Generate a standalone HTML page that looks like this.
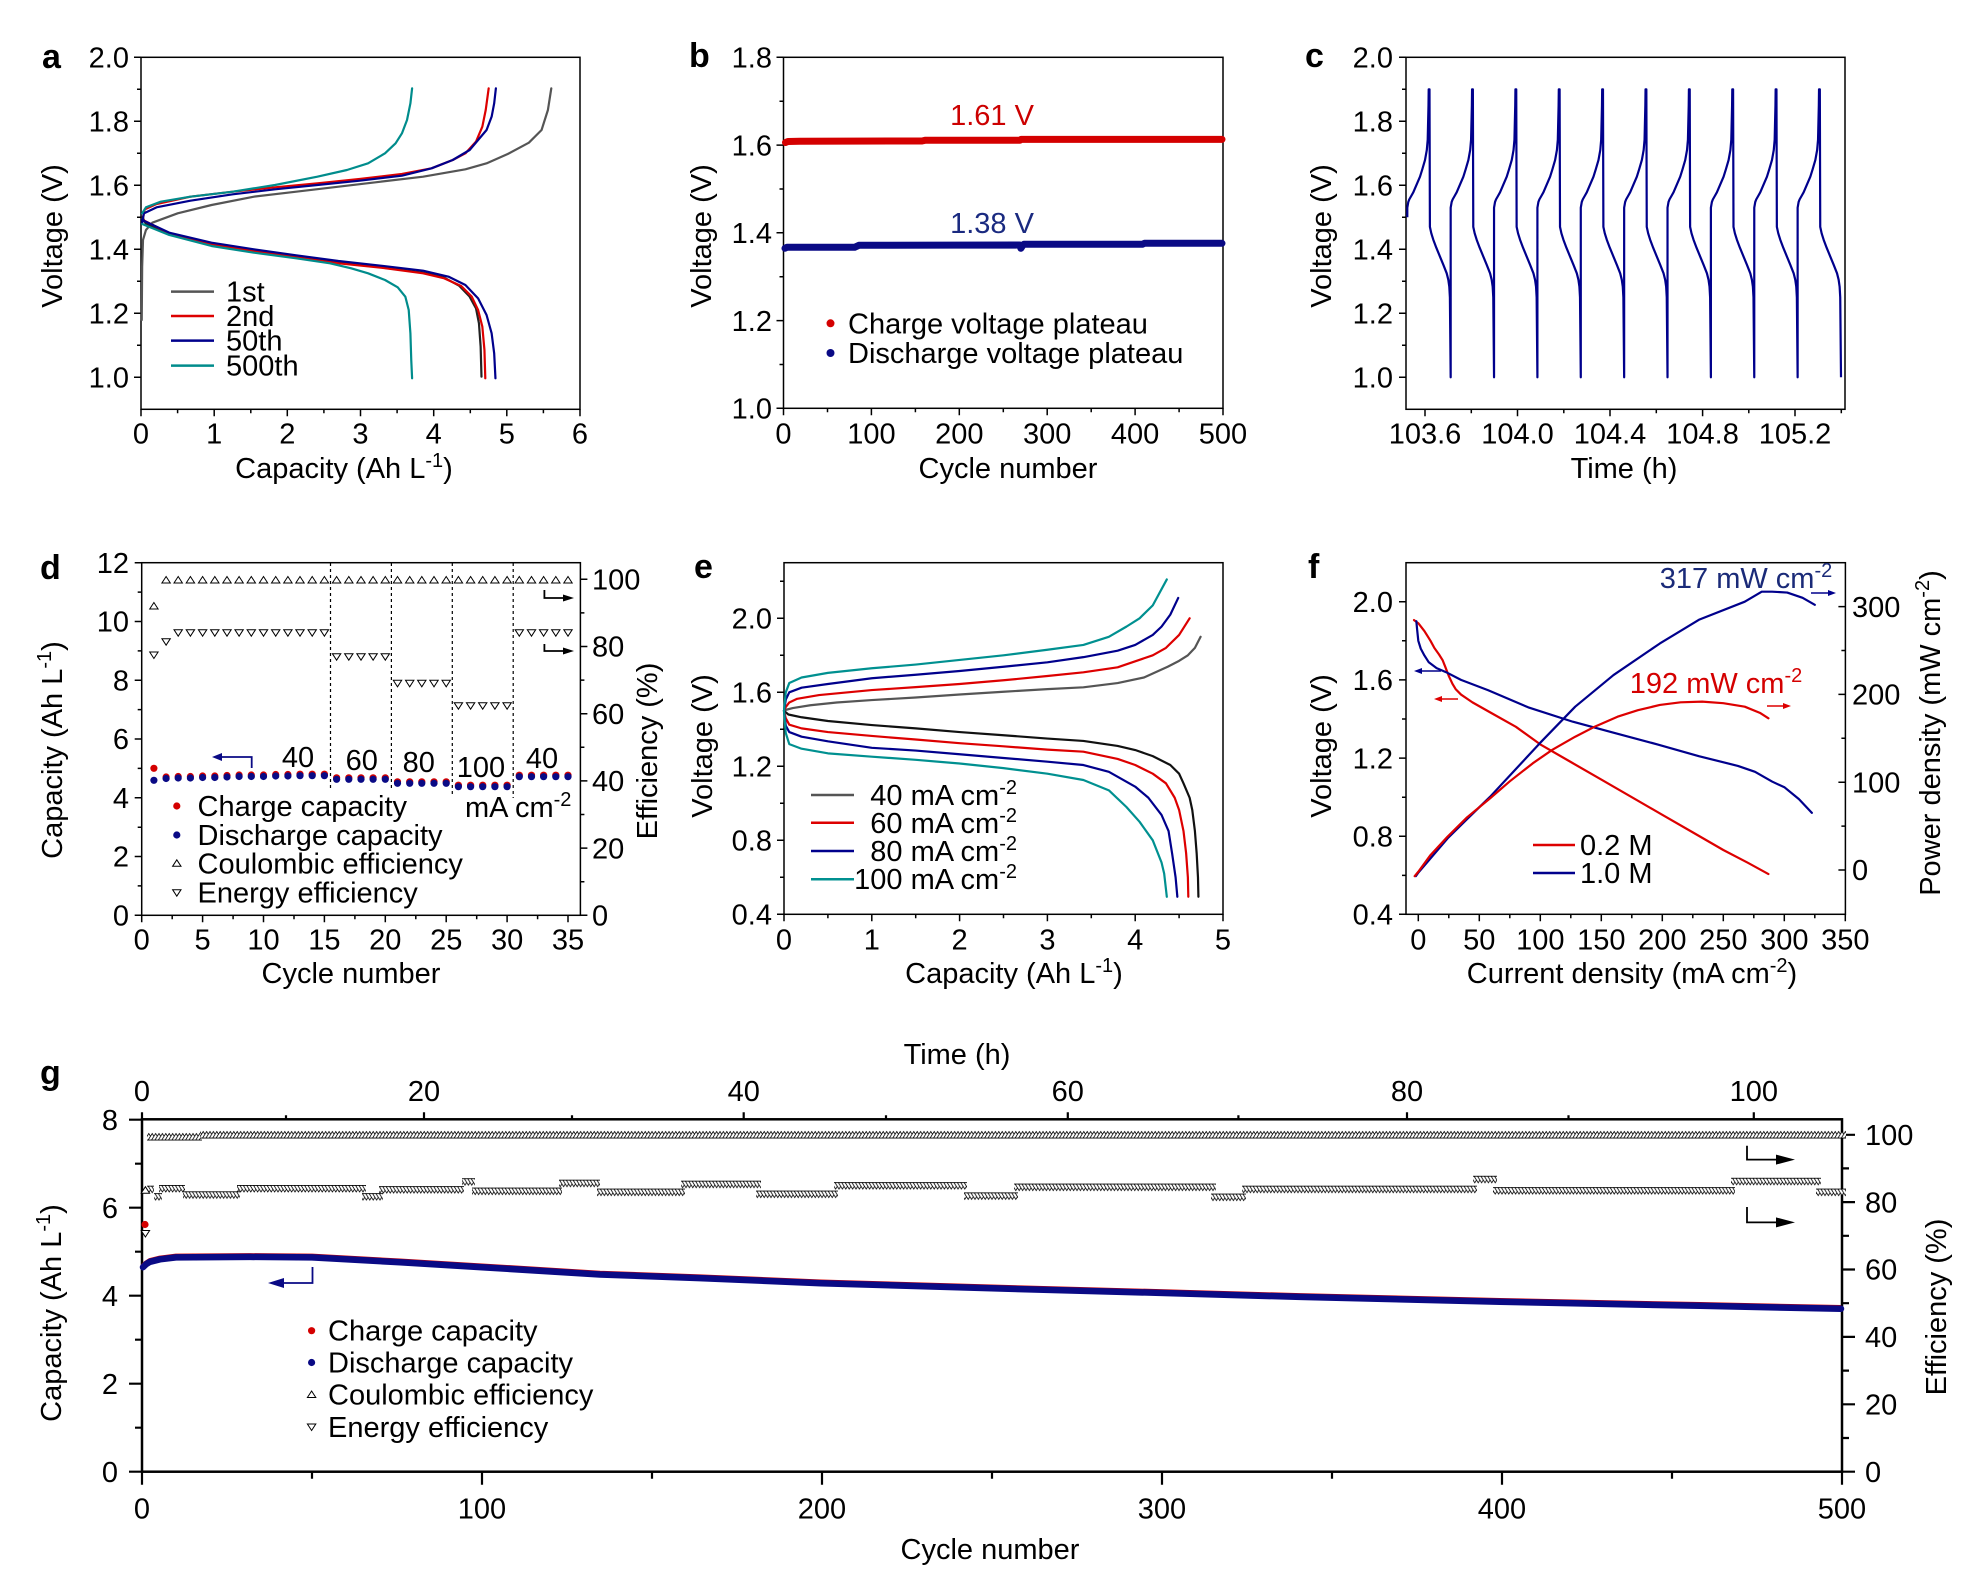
<!DOCTYPE html>
<html><head><meta charset="utf-8"><style>
html,body{margin:0;padding:0;background:#fff;}
svg{display:block}
text{font-family:"Liberation Sans",Arial,sans-serif;font-size:29px;fill:#000}
.b{font-weight:bold;font-size:34px}
.ax{fill:none;stroke:#000;stroke-width:1.5}
.tk{fill:none;stroke:#000;stroke-width:1.5}
.ln{fill:none;stroke-width:2.2;stroke-linejoin:round;stroke-linecap:round;vector-effect:non-scaling-stroke}
.e{text-anchor:end}
.m{text-anchor:middle}
</style></head><body>
<svg width="1981" height="1587" viewBox="0 0 1981 1587" xmlns="http://www.w3.org/2000/svg">
<defs>
<path id="tu" d="M0,-3.5 L4.2,3 L-4.2,3 Z" fill="#fff" stroke="#000" stroke-width="1"/>
<path id="td" d="M0,3.5 L4.2,-3 L-4.2,-3 Z" fill="#fff" stroke="#000" stroke-width="1"/>
<pattern id="pCE" patternUnits="userSpaceOnUse" x="140.3" y="-10" width="3.4" height="20">
<g fill="#fff" stroke="#000" stroke-width="0.8">
<path d="M-5.1,6.5 L-1.1,13 L-9.1,13 Z"/><path d="M-1.7,6.5 L2.3,13 L-5.7,13 Z"/><path d="M1.7,6.5 L5.7,13 L-2.3,13 Z"/><path d="M5.1,6.5 L9.1,13 L1.1,13 Z"/><path d="M8.5,6.5 L12.5,13 L4.5,13 Z"/>
</g></pattern>
<pattern id="pEE" patternUnits="userSpaceOnUse" x="140.3" y="-10" width="3.4" height="20">
<g fill="#fff" stroke="#000" stroke-width="0.8">
<path d="M-9.1,7 L-1.1,7 L-5.1,13.5 Z"/><path d="M-5.7,7 L2.3,7 L-1.7,13.5 Z"/><path d="M-2.3,7 L5.7,7 L1.7,13.5 Z"/><path d="M1.1,7 L9.1,7 L5.1,13.5 Z"/><path d="M4.5,7 L12.5,7 L8.5,13.5 Z"/>
</g></pattern>
</defs>
<rect width="1981" height="1587" fill="#fff"/>

<!-- ================= Panel a ================= -->
<text class="b" x="42" y="68">a</text>
<rect class="ax" x="141" y="57.3" width="439" height="352"/>
<path class="tk" d="M134,57.3H141M134,121.3H141M134,185.3H141M134,249.3H141M134,313.3H141M134,377.3H141M137,89.3H141M137,153.3H141M137,217.3H141M137,281.3H141M137,345.3H141M141,409.3V416.3M214.2,409.3V416.3M287.3,409.3V416.3M360.5,409.3V416.3M433.7,409.3V416.3M506.8,409.3V416.3M580,409.3V416.3M177.6,409.3V413.3M250.8,409.3V413.3M323.9,409.3V413.3M397.1,409.3V413.3M470.3,409.3V413.3M543.4,409.3V413.3"/>
<text class="e" x="129" y="67.5">2.0</text><text class="e" x="129" y="131.5">1.8</text><text class="e" x="129" y="195.5">1.6</text><text class="e" x="129" y="259.5">1.4</text><text class="e" x="129" y="323.5">1.2</text><text class="e" x="129" y="387.5">1.0</text>
<text class="m" x="141" y="443.5">0</text><text class="m" x="214.2" y="443.5">1</text><text class="m" x="287.3" y="443.5">2</text><text class="m" x="360.5" y="443.5">3</text><text class="m" x="433.7" y="443.5">4</text><text class="m" x="506.8" y="443.5">5</text><text class="m" x="580" y="443.5">6</text>
<text class="m" x="344" y="478">Capacity (Ah L<tspan font-size="20" dy="-11">-1</tspan><tspan dy="11">)</tspan></text>
<text class="m" transform="translate(52,236) rotate(-90)" y="10">Voltage (V)</text>
<g transform="scale(0.4231 0.33333)">
<path class="ln" stroke="#555" d="M335,960 L336,800 L338,720 L345,690 L360,668 L420,640 L500,615 L600,590 L700,575 L800,560 L900,545 L1000,530 L1100,508 L1150,490 L1200,462 L1250,428 L1280,390 L1295,330 L1303,265"/>
<path class="ln" stroke="#222" d="M336,650 L345,672 L400,700 L500,730 L600,750 L700,770 L800,787 L900,802 L1000,818 L1050,833 L1085,857 L1110,890 L1125,925 L1132,970 L1136,1040 L1138,1130"/>
<path class="ln" stroke="#dd0000" d="M338,655 L342,628 L370,612 L450,590 L550,575 L650,562 L750,550 L850,537 L950,522 L1020,505 L1070,480 L1100,460 L1125,425 L1140,380 L1148,330 L1155,265"/>
<path class="ln" stroke="#dd0000" d="M338,660 L400,700 L500,733 L600,753 L700,772 L800,790 L900,803 L1000,820 L1050,835 L1090,858 L1115,890 L1130,930 L1140,980 L1145,1050 L1147,1135"/>
<path class="ln" stroke="#00008c" d="M336,670 L340,640 L370,622 L450,602 L550,583 L650,568 L750,555 L850,542 L950,527 L1020,505 L1070,480 L1110,450 L1130,420 L1150,390 L1162,350 L1168,310 L1172,265"/>
<path class="ln" stroke="#00008c" d="M336,660 L400,698 L500,728 L600,748 L700,766 L800,783 L900,797 L1000,812 L1060,830 L1100,855 L1130,895 L1150,945 L1162,1000 L1168,1060 L1171,1135"/>
<path class="ln" stroke="#008c8c" d="M336,640 L345,622 L380,605 L450,590 L550,575 L650,555 L750,530 L820,510 L870,490 L910,460 L935,430 L950,400 L962,360 L970,310 L974,265"/>
<path class="ln" stroke="#008c8c" d="M336,672 L400,705 L500,738 L600,758 L700,775 L780,790 L830,805 L870,820 L910,840 L940,862 L958,890 L966,930 L970,1000 L972,1080 L974,1135"/>
</g>
<g stroke-width="2.5">
<line x1="171" y1="291.6" x2="214" y2="291.6" stroke="#555"/>
<line x1="171" y1="316" x2="214" y2="316" stroke="#dd0000"/>
<line x1="171" y1="340.6" x2="214" y2="340.6" stroke="#00008c"/>
<line x1="171" y1="365.6" x2="214" y2="365.6" stroke="#008c8c"/>
</g>
<text x="226" y="301.6">1st</text><text x="226" y="326">2nd</text><text x="226" y="350.6">50th</text><text x="226" y="375.6">500th</text>

<!-- ================= Panel b ================= -->
<text class="b" x="689" y="67">b</text>
<rect class="ax" x="783.5" y="57.3" width="439.5" height="351"/>
<path class="tk" d="M776.5,57.3H783.5M776.5,145.1H783.5M776.5,232.8H783.5M776.5,320.6H783.5M776.5,408.3H783.5M779.5,101.2H783.5M779.5,189H783.5M779.5,276.7H783.5M779.5,364.5H783.5M783.5,408.3V415.3M871.4,408.3V415.3M959.3,408.3V415.3M1047.2,408.3V415.3M1135.1,408.3V415.3M1223,408.3V415.3M827.5,408.3V412.3M915.4,408.3V412.3M1003.3,408.3V412.3M1091.2,408.3V412.3M1179.1,408.3V412.3"/>
<text class="e" x="772" y="67.5">1.8</text><text class="e" x="772" y="155.3">1.6</text><text class="e" x="772" y="243">1.4</text><text class="e" x="772" y="330.8">1.2</text><text class="e" x="772" y="418.5">1.0</text>
<text class="m" x="783.5" y="443.5">0</text><text class="m" x="871.4" y="443.5">100</text><text class="m" x="959.3" y="443.5">200</text><text class="m" x="1047.2" y="443.5">300</text><text class="m" x="1135.1" y="443.5">400</text><text class="m" x="1223" y="443.5">500</text>
<text class="m" x="1008" y="478">Cycle number</text>
<text class="m" transform="translate(701,236) rotate(-90)" y="10">Voltage (V)</text>
<path d="M785.5,142.5 L788,141.5 L800,141.2 L922,141 L925,140.3 L1020,140.3 L1021,139.4 L1222,139.4" fill="none" stroke="#d40000" stroke-width="7" stroke-linecap="round" stroke-linejoin="round"/>
<path d="M785,248.3 L787,247.3 L854.6,247.3 L858.9,245.3 L1019.6,245 L1020.9,248.3 L1023,245 L1024,244.3 L1142.3,244.3 L1144.5,243.3 L1222,243.3" fill="none" stroke="#0a0a85" stroke-width="7" stroke-linecap="round" stroke-linejoin="round"/>
<text class="m" x="992" y="125" style="fill:#cc0000">1.61 V</text>
<text class="m" x="992" y="233" style="fill:#1a2a80">1.38 V</text>
<circle cx="830.5" cy="323.3" r="4" fill="#d40000"/><circle cx="830.5" cy="353" r="4" fill="#0a0a85"/>
<text x="848" y="333.3">Charge voltage plateau</text><text x="848" y="363">Discharge voltage plateau</text>

<!-- ================= Panel c ================= -->
<text class="b" x="1305" y="67">c</text>
<rect class="ax" x="1406" y="57.3" width="439" height="352"/>
<path class="tk" d="M1399,57.3H1406M1399,121.3H1406M1399,185.3H1406M1399,249.3H1406M1399,313.3H1406M1399,377.3H1406M1402,89.3H1406M1402,153.3H1406M1402,217.3H1406M1402,281.3H1406M1402,345.3H1406M1425,409.3V416.3M1517.5,409.3V416.3M1610,409.3V416.3M1702.6,409.3V416.3M1795,409.3V416.3M1471.3,409.3V413.3M1563.8,409.3V413.3M1656.3,409.3V413.3M1748.8,409.3V413.3M1841.3,409.3V413.3"/>
<text class="e" x="1393" y="67.5">2.0</text><text class="e" x="1393" y="131.5">1.8</text><text class="e" x="1393" y="195.5">1.6</text><text class="e" x="1393" y="259.5">1.4</text><text class="e" x="1393" y="323.5">1.2</text><text class="e" x="1393" y="387.5">1.0</text>
<text class="m" x="1425" y="443.5">103.6</text><text class="m" x="1517.5" y="443.5">104.0</text><text class="m" x="1610" y="443.5">104.4</text><text class="m" x="1702.6" y="443.5">104.8</text><text class="m" x="1795" y="443.5">105.2</text>
<text class="m" x="1624" y="478">Time (h)</text>
<text class="m" transform="translate(1321,236) rotate(-90)" y="10">Voltage (V)</text>
<path fill="none" stroke="#00008c" stroke-width="2.2" stroke-linejoin="round" d="M1407.3,217.3 l0,-9.6
l1,-5.76 l1,-2.56 l2,-3.52 l2,-3.52 l3,-7.04 l3.7,-8.64 l2.3,-7.36 l2.7,-9.28 l1.8,-9.92 l0.9,-10.24 l0.8,-34.56 l0.2,-16 l0.8,0 l0.4,137.6 l1.4,6.4 l2,6.4 l3,8 l3.7,8.96 l3.3,8 l3.4,8.64 l1.6,6.4 l1,7.04 l0.6,10.56 l0.77,80 l0,-169.6
l1,-5.76 l1,-2.56 l2,-3.52 l2,-3.52 l3,-7.04 l3.7,-8.64 l2.3,-7.36 l2.7,-9.28 l1.8,-9.92 l0.9,-10.24 l0.8,-34.56 l0.2,-16 l0.8,0 l0.4,137.6 l1.4,6.4 l2,6.4 l3,8 l3.7,8.96 l3.3,8 l3.4,8.64 l1.6,6.4 l1,7.04 l0.6,10.56 l0.77,80 l0,-169.6
l1,-5.76 l1,-2.56 l2,-3.52 l2,-3.52 l3,-7.04 l3.7,-8.64 l2.3,-7.36 l2.7,-9.28 l1.8,-9.92 l0.9,-10.24 l0.8,-34.56 l0.2,-16 l0.8,0 l0.4,137.6 l1.4,6.4 l2,6.4 l3,8 l3.7,8.96 l3.3,8 l3.4,8.64 l1.6,6.4 l1,7.04 l0.6,10.56 l0.77,80 l0,-169.6
l1,-5.76 l1,-2.56 l2,-3.52 l2,-3.52 l3,-7.04 l3.7,-8.64 l2.3,-7.36 l2.7,-9.28 l1.8,-9.92 l0.9,-10.24 l0.8,-34.56 l0.2,-16 l0.8,0 l0.4,137.6 l1.4,6.4 l2,6.4 l3,8 l3.7,8.96 l3.3,8 l3.4,8.64 l1.6,6.4 l1,7.04 l0.6,10.56 l0.77,80 l0,-169.6
l1,-5.76 l1,-2.56 l2,-3.52 l2,-3.52 l3,-7.04 l3.7,-8.64 l2.3,-7.36 l2.7,-9.28 l1.8,-9.92 l0.9,-10.24 l0.8,-34.56 l0.2,-16 l0.8,0 l0.4,137.6 l1.4,6.4 l2,6.4 l3,8 l3.7,8.96 l3.3,8 l3.4,8.64 l1.6,6.4 l1,7.04 l0.6,10.56 l0.77,80 l0,-169.6
l1,-5.76 l1,-2.56 l2,-3.52 l2,-3.52 l3,-7.04 l3.7,-8.64 l2.3,-7.36 l2.7,-9.28 l1.8,-9.92 l0.9,-10.24 l0.8,-34.56 l0.2,-16 l0.8,0 l0.4,137.6 l1.4,6.4 l2,6.4 l3,8 l3.7,8.96 l3.3,8 l3.4,8.64 l1.6,6.4 l1,7.04 l0.6,10.56 l0.77,80 l0,-169.6
l1,-5.76 l1,-2.56 l2,-3.52 l2,-3.52 l3,-7.04 l3.7,-8.64 l2.3,-7.36 l2.7,-9.28 l1.8,-9.92 l0.9,-10.24 l0.8,-34.56 l0.2,-16 l0.8,0 l0.4,137.6 l1.4,6.4 l2,6.4 l3,8 l3.7,8.96 l3.3,8 l3.4,8.64 l1.6,6.4 l1,7.04 l0.6,10.56 l0.77,80 l0,-169.6
l1,-5.76 l1,-2.56 l2,-3.52 l2,-3.52 l3,-7.04 l3.7,-8.64 l2.3,-7.36 l2.7,-9.28 l1.8,-9.92 l0.9,-10.24 l0.8,-34.56 l0.2,-16 l0.8,0 l0.4,137.6 l1.4,6.4 l2,6.4 l3,8 l3.7,8.96 l3.3,8 l3.4,8.64 l1.6,6.4 l1,7.04 l0.6,10.56 l0.77,80 l0,-169.6
l1,-5.76 l1,-2.56 l2,-3.52 l2,-3.52 l3,-7.04 l3.7,-8.64 l2.3,-7.36 l2.7,-9.28 l1.8,-9.92 l0.9,-10.24 l0.8,-34.56 l0.2,-16 l0.8,0 l0.4,137.6 l1.4,6.4 l2,6.4 l3,8 l3.7,8.96 l3.3,8 l3.4,8.64 l1.6,6.4 l1,7.04 l0.6,10.56 l0.77,80 l0,-169.6
l1,-5.76 l1,-2.56 l2,-3.52 l2,-3.52 l3,-7.04 l3.7,-8.64 l2.3,-7.36 l2.7,-9.28 l1.8,-9.92 l0.9,-10.24 l0.8,-34.56 l0.2,-16 l0.8,0 l0.4,137.6 l1.4,6.4 l2,6.4 l3,8 l3.7,8.96 l3.3,8 l3.4,8.64 l1.6,6.4 l1,7.04 l0.6,10.56 l0.77,80"/>

<!-- ================= Panel d ================= -->
<text class="b" x="40" y="579">d</text>
<rect class="ax" x="141.7" y="562.7" width="438.7" height="352.6"/>
<path class="tk" d="M134.7,562.7H141.7M134.7,621.5H141.7M134.7,680.3H141.7M134.7,739H141.7M134.7,797.8H141.7M134.7,856.5H141.7M134.7,915.3H141.7M137.7,592.1H141.7M137.7,650.9H141.7M137.7,709.6H141.7M137.7,768.4H141.7M137.7,827.2H141.7M137.7,885.9H141.7M580.4,579.3H587.4M580.4,646.5H587.4M580.4,713.7H587.4M580.4,780.9H587.4M580.4,848.1H587.4M580.4,915.3H587.4M580.4,612.9H584.4M580.4,680.1H584.4M580.4,747.3H584.4M580.4,814.5H584.4M580.4,881.7H584.4M141.7,915.3V922.3M202.6,915.3V922.3M263.5,915.3V922.3M324.4,915.3V922.3M385.3,915.3V922.3M446.2,915.3V922.3M507.1,915.3V922.3M568,915.3V922.3M172.2,915.3V919.3M233.1,915.3V919.3M294,915.3V919.3M354.9,915.3V919.3M415.8,915.3V919.3M476.7,915.3V919.3M537.6,915.3V919.3"/>
<text class="e" x="129" y="572.9">12</text><text class="e" x="129" y="631.7">10</text><text class="e" x="129" y="690.5">8</text><text class="e" x="129" y="749.2">6</text><text class="e" x="129" y="808">4</text><text class="e" x="129" y="866.7">2</text><text class="e" x="129" y="925.5">0</text>
<text x="592" y="589.5">100</text><text x="592" y="656.7">80</text><text x="592" y="723.9">60</text><text x="592" y="791.1">40</text><text x="592" y="858.3">20</text><text x="592" y="925.5">0</text>
<text class="m" x="141.7" y="949.5">0</text><text class="m" x="202.6" y="949.5">5</text><text class="m" x="263.5" y="949.5">10</text><text class="m" x="324.4" y="949.5">15</text><text class="m" x="385.3" y="949.5">20</text><text class="m" x="446.2" y="949.5">25</text><text class="m" x="507.1" y="949.5">30</text><text class="m" x="568" y="949.5">35</text>
<text class="m" x="351" y="983">Cycle number</text>
<text class="m" transform="translate(52,750) rotate(-90)" y="10">Capacity (Ah L<tspan font-size="20" dy="-11">-1</tspan><tspan dy="11">)</tspan></text>
<text class="m" transform="translate(647,751) rotate(-90)" y="10">Efficiency (%)</text>
<g stroke="#000" stroke-width="1.2" stroke-dasharray="3,3">
<line x1="330.5" y1="563" x2="330.5" y2="788"/><line x1="391.4" y1="563" x2="391.4" y2="790"/><line x1="452.3" y1="563" x2="452.3" y2="795"/><line x1="513.2" y1="563" x2="513.2" y2="798"/>
</g>
<!-- CE -->
<use href="#tu" x="153.9" y="606"/>
<use href="#tu" x="166.1" y="580"/><use href="#tu" x="178.2" y="580"/><use href="#tu" x="190.4" y="580"/><use href="#tu" x="202.6" y="580"/><use href="#tu" x="214.8" y="580"/><use href="#tu" x="227" y="580"/><use href="#tu" x="239.1" y="580"/><use href="#tu" x="251.3" y="580"/><use href="#tu" x="263.5" y="580"/><use href="#tu" x="275.7" y="580"/><use href="#tu" x="287.9" y="580"/><use href="#tu" x="300" y="580"/><use href="#tu" x="312.2" y="580"/><use href="#tu" x="324.4" y="580"/><use href="#tu" x="336.6" y="580"/><use href="#tu" x="348.8" y="580"/><use href="#tu" x="361" y="580"/><use href="#tu" x="373.1" y="580"/><use href="#tu" x="385.3" y="580"/><use href="#tu" x="397.5" y="580"/><use href="#tu" x="409.7" y="580"/><use href="#tu" x="421.8" y="580"/><use href="#tu" x="434" y="580"/><use href="#tu" x="446.2" y="580"/><use href="#tu" x="458.4" y="580"/><use href="#tu" x="470.6" y="580"/><use href="#tu" x="482.7" y="580"/><use href="#tu" x="494.9" y="580"/><use href="#tu" x="507.1" y="580"/><use href="#tu" x="519.3" y="580"/><use href="#tu" x="531.5" y="580"/><use href="#tu" x="543.6" y="580"/><use href="#tu" x="555.8" y="580"/><use href="#tu" x="568" y="580"/>
<!-- EE -->
<use href="#td" x="153.9" y="655"/><use href="#td" x="166.1" y="641.7"/>
<use href="#td" x="178.2" y="632.7"/><use href="#td" x="190.4" y="632.7"/><use href="#td" x="202.6" y="632.7"/><use href="#td" x="214.8" y="632.7"/><use href="#td" x="227" y="632.7"/><use href="#td" x="239.1" y="632.7"/><use href="#td" x="251.3" y="632.7"/><use href="#td" x="263.5" y="632.7"/><use href="#td" x="275.7" y="632.7"/><use href="#td" x="287.9" y="632.7"/><use href="#td" x="300" y="632.7"/><use href="#td" x="312.2" y="632.7"/><use href="#td" x="324.4" y="632.7"/>
<use href="#td" x="336.6" y="656.7"/><use href="#td" x="348.8" y="656.7"/><use href="#td" x="361" y="656.7"/><use href="#td" x="373.1" y="656.7"/><use href="#td" x="385.3" y="656.7"/>
<use href="#td" x="397.5" y="683.3"/><use href="#td" x="409.7" y="683.3"/><use href="#td" x="421.8" y="683.3"/><use href="#td" x="434" y="683.3"/><use href="#td" x="446.2" y="683.3"/>
<use href="#td" x="458.4" y="705.7"/><use href="#td" x="470.6" y="705.7"/><use href="#td" x="482.7" y="705.7"/><use href="#td" x="494.9" y="705.7"/><use href="#td" x="507.1" y="705.7"/>
<use href="#td" x="519.3" y="632.7"/><use href="#td" x="531.5" y="632.7"/><use href="#td" x="543.6" y="632.7"/><use href="#td" x="555.8" y="632.7"/><use href="#td" x="568" y="632.7"/>
<!-- capacity -->
<g fill="#d40000">
<circle cx="153.9" cy="768.3" r="3.6"/><circle cx="166.1" cy="777" r="3.6"/><circle cx="178.2" cy="776.5" r="3.6"/><circle cx="190.4" cy="776.5" r="3.6"/><circle cx="202.6" cy="776" r="3.6"/><circle cx="214.8" cy="776" r="3.6"/><circle cx="227" cy="775.5" r="3.6"/><circle cx="239.1" cy="775" r="3.6"/><circle cx="251.3" cy="775" r="3.6"/><circle cx="263.5" cy="775" r="3.6"/><circle cx="275.7" cy="774.5" r="3.6"/><circle cx="287.9" cy="774.5" r="3.6"/><circle cx="300" cy="774.2" r="3.6"/><circle cx="312.2" cy="774.2" r="3.6"/><circle cx="324.4" cy="774.2" r="3.6"/><circle cx="336.6" cy="777.8" r="3.6"/><circle cx="348.8" cy="777.8" r="3.6"/><circle cx="361" cy="777.8" r="3.6"/><circle cx="373.1" cy="777.8" r="3.6"/><circle cx="385.3" cy="777.8" r="3.6"/><circle cx="397.5" cy="781.8" r="3.6"/><circle cx="409.7" cy="781.8" r="3.6"/><circle cx="421.8" cy="781.8" r="3.6"/><circle cx="434" cy="781.8" r="3.6"/><circle cx="446.2" cy="781.8" r="3.6"/><circle cx="458.4" cy="785.2" r="3.6"/><circle cx="470.6" cy="785.2" r="3.6"/><circle cx="482.7" cy="785.2" r="3.6"/><circle cx="494.9" cy="785.2" r="3.6"/><circle cx="507.1" cy="785.2" r="3.6"/><circle cx="519.3" cy="775.2" r="3.6"/><circle cx="531.5" cy="775.2" r="3.6"/><circle cx="543.6" cy="775.2" r="3.6"/><circle cx="555.8" cy="775.2" r="3.6"/><circle cx="568" cy="775.2" r="3.6"/>
</g>
<g fill="#0a0a85">
<circle cx="153.9" cy="780.3" r="3.6"/><circle cx="166.1" cy="778.5" r="3.6"/><circle cx="178.2" cy="778" r="3.6"/><circle cx="190.4" cy="778" r="3.6"/><circle cx="202.6" cy="777.5" r="3.6"/><circle cx="214.8" cy="777.5" r="3.6"/><circle cx="227" cy="777" r="3.6"/><circle cx="239.1" cy="776.5" r="3.6"/><circle cx="251.3" cy="776.5" r="3.6"/><circle cx="263.5" cy="776.5" r="3.6"/><circle cx="275.7" cy="776" r="3.6"/><circle cx="287.9" cy="776" r="3.6"/><circle cx="300" cy="775.7" r="3.6"/><circle cx="312.2" cy="775.7" r="3.6"/><circle cx="324.4" cy="775.7" r="3.6"/><circle cx="336.6" cy="779.3" r="3.6"/><circle cx="348.8" cy="779.3" r="3.6"/><circle cx="361" cy="779.3" r="3.6"/><circle cx="373.1" cy="779.3" r="3.6"/><circle cx="385.3" cy="779.3" r="3.6"/><circle cx="397.5" cy="783.3" r="3.6"/><circle cx="409.7" cy="783.3" r="3.6"/><circle cx="421.8" cy="783.3" r="3.6"/><circle cx="434" cy="783.3" r="3.6"/><circle cx="446.2" cy="783.3" r="3.6"/><circle cx="458.4" cy="786.7" r="3.6"/><circle cx="470.6" cy="786.7" r="3.6"/><circle cx="482.7" cy="786.7" r="3.6"/><circle cx="494.9" cy="786.7" r="3.6"/><circle cx="507.1" cy="786.7" r="3.6"/><circle cx="519.3" cy="776.7" r="3.6"/><circle cx="531.5" cy="776.7" r="3.6"/><circle cx="543.6" cy="776.7" r="3.6"/><circle cx="555.8" cy="776.7" r="3.6"/><circle cx="568" cy="776.7" r="3.6"/>
</g>
<text class="m" x="298" y="767">40</text><text class="m" x="361.7" y="770">60</text><text class="m" x="418.8" y="772">80</text><text class="m" x="481" y="777">100</text><text class="m" x="542" y="768">40</text>
<text x="465" y="817">mA cm<tspan font-size="20" dy="-11">-2</tspan></text>
<path d="M251.7,768 L251.7,757 L220,757" fill="none" stroke="#0a0a85" stroke-width="1.8"/>
<path d="M212,757 L222,753 L222,761 Z" fill="#0a0a85"/>
<path d="M544.4,590 L544.4,598 L565,598 M544.4,644 L544.4,651 L565,651" fill="none" stroke="#000" stroke-width="1.8"/>
<path d="M574,598 L563,594.5 L563,601.5 Z M574,651 L563,647.5 L563,654.5 Z" fill="#000"/>
<circle cx="176.8" cy="806" r="3.6" fill="#d40000"/><circle cx="176.8" cy="835" r="3.6" fill="#0a0a85"/>
<use href="#tu" x="176.8" y="863.3"/><use href="#td" x="176.8" y="892.7"/>
<text x="197.5" y="816">Charge capacity</text><text x="197.5" y="845">Discharge capacity</text><text x="197.5" y="873.3">Coulombic efficiency</text><text x="197.5" y="902.7">Energy efficiency</text>

<!-- ================= Panel e ================= -->
<text class="b" x="694" y="578">e</text>
<rect class="ax" x="784" y="562.7" width="439" height="351.6"/>
<path class="tk" d="M777,618.3H784M777,692.3H784M777,766.3H784M777,840.3H784M777,914.3H784M780,581.3H784M780,655.3H784M780,729.3H784M780,803.3H784M780,877.3H784M784,914.3V921.3M871.8,914.3V921.3M959.6,914.3V921.3M1047.4,914.3V921.3M1135.2,914.3V921.3M1223,914.3V921.3M827.9,914.3V918.3M915.7,914.3V918.3M1003.5,914.3V918.3M1091.3,914.3V918.3M1179.1,914.3V918.3"/>
<text class="e" x="772" y="628.5">2.0</text><text class="e" x="772" y="702.5">1.6</text><text class="e" x="772" y="776.5">1.2</text><text class="e" x="772" y="850.5">0.8</text><text class="e" x="772" y="924.5">0.4</text>
<text class="m" x="784" y="949.5">0</text><text class="m" x="871.8" y="949.5">1</text><text class="m" x="959.6" y="949.5">2</text><text class="m" x="1047.4" y="949.5">3</text><text class="m" x="1135.2" y="949.5">4</text><text class="m" x="1223" y="949.5">5</text>
<text class="m" x="1014" y="983">Capacity (Ah L<tspan font-size="20" dy="-11">-1</tspan><tspan dy="11">)</tspan></text>
<text class="m" transform="translate(702,746) rotate(-90)" y="10">Voltage (V)</text>
<g transform="matrix(87.8 0 0 -185 784 988.3)">
<polyline class="ln" stroke="#555" points="0,1.5 0.02,1.505 0.1,1.515 0.3,1.53 0.6,1.545 1,1.558 1.5,1.572 2,1.588 2.5,1.603 3,1.617 3.41,1.627 3.8,1.65 4.1,1.68 4.37,1.738 4.5,1.77 4.6,1.8 4.68,1.84 4.745,1.9"/>
<polyline class="ln" stroke="#111" points="0,1.5 0.05,1.48 0.2,1.465 0.5,1.445 1,1.423 1.5,1.405 2,1.385 2.5,1.368 3,1.35 3.41,1.337 3.8,1.31 4,1.288 4.2,1.255 4.4,1.207 4.5,1.16 4.55,1.108 4.62,1.03 4.65,0.964 4.68,0.85 4.7,0.73 4.715,0.6 4.72,0.495"/>
<polyline class="ln" stroke="#dd0000" points="0,1.5 0.02,1.52 0.06,1.545 0.15,1.565 0.4,1.585 1,1.612 1.5,1.628 2,1.645 2.5,1.665 3,1.688 3.41,1.708 3.8,1.735 4.2,1.8 4.35,1.84 4.5,1.91 4.62,2"/>
<polyline class="ln" stroke="#dd0000" points="0,1.5 0.02,1.46 0.06,1.425 0.2,1.405 0.5,1.385 1,1.364 1.5,1.345 2,1.325 2.5,1.308 3,1.29 3.41,1.279 3.8,1.24 4,1.207 4.2,1.16 4.35,1.108 4.45,1.03 4.5,0.964 4.55,0.85 4.58,0.73 4.6,0.6 4.605,0.495"/>
<polyline class="ln" stroke="#00008c" points="0,1.5 0.02,1.56 0.06,1.6 0.2,1.625 0.5,1.645 1,1.676 1.5,1.695 2,1.715 2.5,1.738 3,1.762 3.41,1.79 3.8,1.825 4,1.856 4.2,1.91 4.3,1.955 4.4,2.02 4.49,2.11"/>
<polyline class="ln" stroke="#00008c" points="0,1.5 0.02,1.42 0.06,1.385 0.2,1.36 0.5,1.335 1,1.3 1.5,1.285 2,1.265 2.5,1.245 3,1.225 3.41,1.207 3.7,1.17 4,1.09 4.15,1.03 4.3,0.937 4.38,0.85 4.42,0.73 4.46,0.6 4.48,0.495"/>
<polyline class="ln" stroke="#009090" points="0,1.5 0.02,1.6 0.06,1.65 0.2,1.68 0.5,1.705 1,1.73 1.5,1.75 2,1.775 2.5,1.8 3,1.83 3.41,1.856 3.7,1.9 3.9,1.955 4.05,2 4.2,2.07 4.36,2.21"/>
<polyline class="ln" stroke="#009090" points="0,1.5 0.02,1.38 0.06,1.32 0.2,1.295 0.5,1.27 1,1.252 1.5,1.235 2,1.215 2.5,1.19 3,1.16 3.41,1.126 3.7,1.07 3.9,0.98 4.05,0.9 4.2,0.8 4.3,0.68 4.33,0.62 4.36,0.495"/>
</g>
<g stroke-width="2.5">
<line x1="811" y1="795" x2="854" y2="795" stroke="#555"/>
<line x1="811" y1="822.7" x2="854" y2="822.7" stroke="#dd0000"/>
<line x1="811" y1="851" x2="854" y2="851" stroke="#00008c"/>
<line x1="811" y1="879.3" x2="854" y2="879.3" stroke="#009090"/>
</g>
<text class="e" x="1017" y="805">40 mA cm<tspan font-size="20" dy="-11">-2</tspan></text>
<text class="e" x="1017" y="833">60 mA cm<tspan font-size="20" dy="-11">-2</tspan></text>
<text class="e" x="1017" y="861">80 mA cm<tspan font-size="20" dy="-11">-2</tspan></text>
<text class="e" x="1017" y="889">100 mA cm<tspan font-size="20" dy="-11">-2</tspan></text>

<!-- ================= Panel f ================= -->
<text class="b" x="1308" y="578">f</text>
<rect class="ax" x="1406" y="562.7" width="439.4" height="351.6"/>
<path class="tk" d="M1399,601.7H1406M1399,679.9H1406M1399,758.1H1406M1399,836.3H1406M1399,914.3H1406M1402,640.8H1406M1402,719H1406M1402,797.2H1406M1402,875.4H1406M1838.4,606.6H1845.4M1838.4,694.4H1845.4M1838.4,782.2H1845.4M1838.4,870H1845.4M1841.4,650.5H1845.4M1841.4,738.3H1845.4M1841.4,826.1H1845.4M1418.3,914.3V921.3M1479.3,914.3V921.3M1540.3,914.3V921.3M1601.3,914.3V921.3M1662.3,914.3V921.3M1723.3,914.3V921.3M1784.3,914.3V921.3M1845.3,914.3V921.3M1448.8,914.3V918.3M1509.8,914.3V918.3M1570.8,914.3V918.3M1631.8,914.3V918.3M1692.8,914.3V918.3M1753.8,914.3V918.3M1814.8,914.3V918.3"/>
<text class="e" x="1393" y="611.9">2.0</text><text class="e" x="1393" y="690.1">1.6</text><text class="e" x="1393" y="768.3">1.2</text><text class="e" x="1393" y="846.5">0.8</text><text class="e" x="1393" y="924.5">0.4</text>
<text x="1852" y="616.8">300</text><text x="1852" y="704.6">200</text><text x="1852" y="792.4">100</text><text x="1852" y="880.2">0</text>
<text class="m" x="1418.3" y="949.5">0</text><text class="m" x="1479.3" y="949.5">50</text><text class="m" x="1540.3" y="949.5">100</text><text class="m" x="1601.3" y="949.5">150</text><text class="m" x="1662.3" y="949.5">200</text><text class="m" x="1723.3" y="949.5">250</text><text class="m" x="1784.3" y="949.5">300</text><text class="m" x="1845.3" y="949.5">350</text>
<text class="m" x="1632" y="983">Current density (mA cm<tspan font-size="20" dy="-11">-2</tspan><tspan dy="11">)</tspan></text>
<text class="m" transform="translate(1321,746) rotate(-90)" y="10">Voltage (V)</text>
<text class="m" transform="translate(1930,733) rotate(-90)" y="10">Power density (mW cm<tspan font-size="20" dy="-11">-2</tspan><tspan dy="11">)</tspan></text>
<g transform="matrix(1.22 0 0 -195.5 1418.3 992.7)">
<polyline class="ln" stroke="#dd0000" points="-3.5,1.906 0,1.89 5,1.85 10,1.8 13.2,1.763 17,1.73 20,1.7 21.9,1.67 25,1.62 28,1.58 30.6,1.553 35,1.525 44.4,1.485 60,1.43 80,1.36 100,1.27 125,1.18 150,1.09 175,1.0 200,0.91 225,0.82 250,0.73 270,0.665 287,0.607"/>
<polyline class="ln" stroke="#00008c" points="-1.6,1.9 -1,1.86 0,1.8 2,1.76 5,1.725 8.6,1.69 15,1.66 22.6,1.64 35,1.6 57.3,1.547 90,1.46 126.7,1.386 160,1.33 196,1.27 230,1.21 262,1.16 276,1.13 290,1.08 300.3,1.05 312,0.99 322.6,0.92"/>
</g>
<g transform="matrix(1.22 0 0 -0.878 1418.3 870)">
<polyline class="ln" stroke="#00008c" points="-2,-7 0,-3 24,36 40,58 58.9,83.5 80,115 100,145 128.6,186 160,222 198,258 230,285 267.6,305.6 281.5,317 290,317 302.4,316 315,310 325,302"/>
<polyline class="ln" stroke="#dd0000" points="-3,-7 0,-2 10,17 24,38 40,60 58.9,81.7 75,101 93.8,121.5 110,137 128.6,151.8 145,163.5 163.3,174.6 180,182 198,188 215,191 232.7,191.8 250,190 267.6,186 280,179 287,172.8"/>
</g>
<text class="m" x="1746" y="588" style="fill:#1a2a78">317 mW cm<tspan font-size="20" dy="-11">-2</tspan></text>
<text class="m" x="1716" y="693" style="fill:#d40000">192 mW cm<tspan font-size="20" dy="-11">-2</tspan></text>
<g stroke-width="1.6" fill="none">
<line x1="1421" y1="671" x2="1441" y2="671" stroke="#00008c"/>
<line x1="1440" y1="699" x2="1458" y2="699" stroke="#dd0000"/>
<line x1="1767" y1="706" x2="1785" y2="706" stroke="#dd0000"/>
<line x1="1811" y1="593" x2="1830" y2="593" stroke="#00008c"/>
</g>
<path d="M1414,671 L1422,668 L1422,674 Z M1836,593 L1828,590 L1828,596 Z" fill="#00008c"/>
<path d="M1434,699 L1442,696 L1442,702 Z M1791,706 L1783,703 L1783,709 Z" fill="#dd0000"/>
<line x1="1533" y1="845" x2="1575" y2="845" stroke="#dd0000" stroke-width="2.5"/>
<line x1="1533" y1="873" x2="1575" y2="873" stroke="#00008c" stroke-width="2.5"/>
<text x="1580" y="855">0.2 M</text><text x="1580" y="883">1.0 M</text>

<!-- ================= Panel g ================= -->
<text class="b" x="40" y="1084">g</text>
<rect x="142" y="1119.3" width="1700" height="352.4" fill="none" stroke="#000" stroke-width="2.5"/>
<path fill="none" stroke="#000" stroke-width="2.2" d="M129,1119.7H142M129,1207.7H142M129,1295.7H142M129,1383.7H142M129,1471.7H142M135,1163.7H142M135,1251.7H142M135,1339.7H142M135,1427.7H142M1842,1134.8H1855M1842,1202.1H1855M1842,1269.5H1855M1842,1336.9H1855M1842,1404.3H1855M1842,1471.7H1855M1842,1168.4H1849M1842,1235.8H1849M1842,1303.2H1849M1842,1370.6H1849M1842,1438H1849M142,1471.7V1484.7M482,1471.7V1484.7M822,1471.7V1484.7M1162,1471.7V1484.7M1502,1471.7V1484.7M1842,1471.7V1484.7M312,1471.7V1478.7M652,1471.7V1478.7M992,1471.7V1478.7M1332,1471.7V1478.7M1672,1471.7V1478.7M142,1119.3V1112.3M424,1119.3V1112.3M743.7,1119.3V1112.3M1067.8,1119.3V1112.3M1407,1119.3V1112.3M1753.8,1119.3V1112.3M286,1119.3V1115.3M572,1119.3V1115.3M886,1119.3V1115.3M1238.4,1119.3V1115.3M1568.5,1119.3V1115.3"/>
<text class="e" x="118" y="1129.9">8</text><text class="e" x="118" y="1217.9">6</text><text class="e" x="118" y="1305.9">4</text><text class="e" x="118" y="1393.9">2</text><text class="e" x="118" y="1481.9">0</text>
<text x="1865" y="1145">100</text><text x="1865" y="1212.3">80</text><text x="1865" y="1279.7">60</text><text x="1865" y="1347.1">40</text><text x="1865" y="1414.5">20</text><text x="1865" y="1481.9">0</text>
<text class="m" x="142" y="1518.5">0</text><text class="m" x="482" y="1518.5">100</text><text class="m" x="822" y="1518.5">200</text><text class="m" x="1162" y="1518.5">300</text><text class="m" x="1502" y="1518.5">400</text><text class="m" x="1842" y="1518.5">500</text>
<text class="m" x="142" y="1101">0</text><text class="m" x="424" y="1101">20</text><text class="m" x="743.7" y="1101">40</text><text class="m" x="1067.8" y="1101">60</text><text class="m" x="1407" y="1101">80</text><text class="m" x="1753.8" y="1101">100</text>
<text class="m" x="957" y="1064">Time (h)</text>
<text class="m" x="990" y="1559">Cycle number</text>
<text class="m" transform="translate(51,1313) rotate(-90)" y="10">Capacity (Ah L<tspan font-size="20" dy="-11">-1</tspan><tspan dy="11">)</tspan></text>
<text class="m" transform="translate(1936,1307) rotate(-90)" y="10">Efficiency (%)</text>
<!-- CE band -->
<rect x="147" y="-5" width="55" height="10" fill="url(#pCE)" transform="translate(0,1137)"/>
<rect x="200" y="-5" width="1646" height="10" fill="url(#pCE)" transform="translate(0,1135)"/>
<!-- EE bands -->
<rect x="147" y="-5" width="7" height="10" fill="url(#pEE)" transform="translate(0,1189.2)"/>
<rect x="154" y="-5" width="8" height="10" fill="url(#pEE)" transform="translate(0,1196.6)"/>
<rect x="159" y="-5" width="26" height="10" fill="url(#pEE)" transform="translate(0,1188.5)"/>
<rect x="183" y="-5" width="57" height="10" fill="url(#pEE)" transform="translate(0,1194.8)"/>
<rect x="237" y="-5" width="129" height="10" fill="url(#pEE)" transform="translate(0,1188.5)"/>
<rect x="362" y="-5" width="21" height="10" fill="url(#pEE)" transform="translate(0,1196.6)"/>
<rect x="379" y="-5" width="85" height="10" fill="url(#pEE)" transform="translate(0,1189.6)"/>
<rect x="462" y="-5" width="13" height="10" fill="url(#pEE)" transform="translate(0,1181.7)"/>
<rect x="472" y="-5" width="90" height="10" fill="url(#pEE)" transform="translate(0,1191.1)"/>
<rect x="559" y="-5" width="41" height="10" fill="url(#pEE)" transform="translate(0,1183.2)"/>
<rect x="597" y="-5" width="88" height="10" fill="url(#pEE)" transform="translate(0,1192.1)"/>
<rect x="681" y="-5" width="80" height="10" fill="url(#pEE)" transform="translate(0,1184.2)"/>
<rect x="756" y="-5" width="82" height="10" fill="url(#pEE)" transform="translate(0,1194.1)"/>
<rect x="834" y="-5" width="133" height="10" fill="url(#pEE)" transform="translate(0,1185.6)"/>
<rect x="964" y="-5" width="54" height="10" fill="url(#pEE)" transform="translate(0,1195.9)"/>
<rect x="1014" y="-5" width="202" height="10" fill="url(#pEE)" transform="translate(0,1187.1)"/>
<rect x="1211" y="-5" width="35" height="10" fill="url(#pEE)" transform="translate(0,1197.1)"/>
<rect x="1242" y="-5" width="235" height="10" fill="url(#pEE)" transform="translate(0,1189.2)"/>
<rect x="1473" y="-5" width="24" height="10" fill="url(#pEE)" transform="translate(0,1179.3)"/>
<rect x="1493" y="-5" width="242" height="10" fill="url(#pEE)" transform="translate(0,1190.6)"/>
<rect x="1731" y="-5" width="90" height="10" fill="url(#pEE)" transform="translate(0,1181.3)"/>
<rect x="1816" y="-5" width="30" height="10" fill="url(#pEE)" transform="translate(0,1192.1)"/>
<use href="#tu" x="145.4" y="1190.2"/>
<use href="#td" x="145.4" y="1233.5"/>
<!-- capacity -->
<polyline fill="none" stroke="#d40000" stroke-width="5.5" stroke-linejoin="round" points="143,1266.2 146,1263.3 150,1260.8 160,1258.3 176,1256.4 250,1255.9 312,1256.4 400,1261.3 482,1266.2 600,1273.5 700,1277.1 821,1282.3 1000,1287.5 1160,1291.9 1300,1295.9 1500,1300.8 1700,1304.8 1841,1307.8"/>
<polyline fill="none" stroke="#0a0a85" stroke-width="6.5" stroke-linejoin="round" stroke-linecap="round" points="143,1267.2 146,1264.3 150,1261.8 160,1259.3 176,1257.4 250,1256.9 312,1257.4 400,1262.3 482,1267.2 600,1274.5 700,1278.1 821,1283.3 1000,1288.5 1160,1292.9 1300,1296.9 1500,1301.8 1700,1305.8 1841,1308.8"/>
<circle cx="145" cy="1224.5" r="3.6" fill="#d40000"/>
<!-- arrows -->
<path d="M312.5,1267 L312.5,1283 L282,1283" fill="none" stroke="#0a0a85" stroke-width="1.8"/>
<path d="M268,1283 L284,1278 L284,1288 Z" fill="#0a0a85"/>
<path d="M1747,1145.8 L1747,1159.6 L1778,1159.6 M1747,1207 L1747,1222.4 L1778,1222.4" fill="none" stroke="#000" stroke-width="1.8"/>
<path d="M1795,1159.6 L1776,1154.6 L1776,1164.6 Z M1795,1222.4 L1776,1217.4 L1776,1227.4 Z" fill="#000"/>
<!-- legend -->
<circle cx="311.6" cy="1330.7" r="3.6" fill="#d40000"/><circle cx="311.6" cy="1362.5" r="3.6" fill="#0a0a85"/>
<use href="#tu" x="311.6" y="1394.5"/><use href="#td" x="311.6" y="1427"/>
<text x="328" y="1340.7">Charge capacity</text><text x="328" y="1372.5">Discharge capacity</text><text x="328" y="1404.5">Coulombic efficiency</text><text x="328" y="1437">Energy efficiency</text>
</svg>
</body></html>
